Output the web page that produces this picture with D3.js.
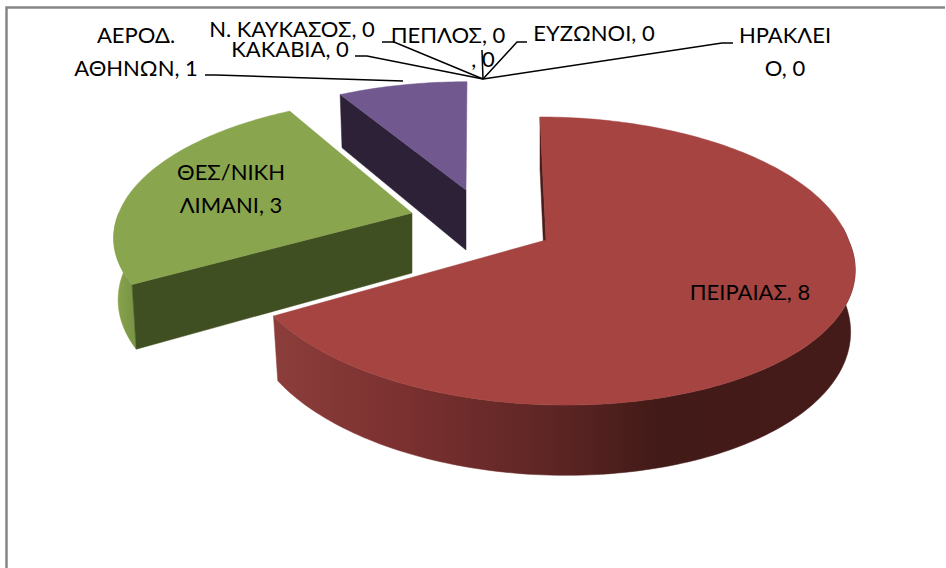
<!DOCTYPE html>
<html>
<head>
<meta charset="utf-8">
<script src="https://cdn.jsdelivr.net/npm/d3@7"></script>
<style>
  html, body { margin: 0; padding: 0; background: #fff; }
  svg { display: block; }
  text { font-family: Lato, "Open Sans", sans-serif; font-size: 22px; fill: #000; }
</style>
</head>
<body>
<div id="chart"></div>
<script>
// chart data, in slice order clockwise from 12 o'clock
var categories = ["ΠΕΙΡΑΙΑΣ", "ΘΕΣ/ΝΙΚΗ ΛΙΜΑΝΙ", "ΑΕΡΟΔ. ΑΘΗΝΩΝ", "ΚΑΚΑΒΙΑ", "Ν. ΚΑΥΚΑΣΟΣ", "", "ΠΕΠΛΟΣ", "ΕΥΖΩΝΟΙ", "ΗΡΑΚΛΕΙΟ"];
var values = [8, 3, 1, 0, 0, 0, 0, 0, 0];

var width = 946,
    height = 568;

// projection of the tilted pie: radii, perspective and wall height
var rx = 307, ry = 141, persp = 0.146, depth = 60;

// exploded slices: where each apex lands, how far back it shrinks, how it leans
var apex = [[546, 240], [412, 213], [466, 190]],
    shrinkX = [0.985, 0.955, 0.93],
    shrinkY = [1, 0.94, 0.88],
    leanBack = [6, -9, -1],
    leanFront = [20, -12, 0];

var topColours = ["#a54440", "#89a54e", "#71588f"],
    cutColours = ["#4a1d1b", "#404f22", "#2c2137"];

var svg = d3.select("#chart")
    .append("svg")
    .attr("width", width)
    .attr("height", height);

var defs = svg.append("defs");

// frame
svg.append("path")
    .attr("d", "M6.5," + height + "V7.5H" + (width - 1))
    .attr("fill", "none")
    .attr("stroke", "#868686")
    .attr("stroke-width", 2.5);

var pie = d3.pie().sort(null)(values);

// a = clockwise angle from the top, f = 0 for the top plane, 1 for the bottom
function project(i, a, r, f) {
    var u = Math.sin(a) * r,
        v = -Math.cos(a) * r,
        w = 1 / (1 - persp * v),
        lean = v < 0 ? leanBack[i] : leanFront[i],
        narrow = 1 - 0.015 * f;
    return [
        apex[i][0] + rx * u * w * narrow * shrinkX[i] + lean * v,
        apex[i][1] + ry * v * w * shrinkY[i] + depth * f * w
    ];
}

function arcPoints(i, a0, a1, f) {
    var n = Math.max(2, Math.ceil(Math.abs(a1 - a0) / 0.02));
    return d3.range(n + 1).map(function(k) {
        return project(i, a0 + (a1 - a0) * k / n, 1, f);
    });
}

var line = d3.line();

function polygon(pts, fill, parent) {
    parent.append("path")
        .attr("d", line(pts) + "Z")
        .attr("fill", fill)
        .attr("stroke", fill)
        .attr("stroke-width", 0.5);
}

// wall along the rim between two angles
function wall(i, a0, a1, fill, parent) {
    polygon(arcPoints(i, a0, a1, 0).concat(arcPoints(i, a1, a0, 1)), fill, parent);
}

// cut face along one radius
function cut(i, a, parent) {
    polygon([project(i, a, 1, 0), project(i, a, 0, 0), project(i, a, 0, 1), project(i, a, 1, 1)], cutColours[i], parent);
}

function wallGradient(i, x0, x1, stops) {
    var g = defs.append("linearGradient")
        .attr("id", "wall" + i)
        .attr("gradientUnits", "userSpaceOnUse")
        .attr("x1", x0).attr("x2", x1)
        .attr("y1", 0).attr("y2", 0);
    stops.forEach(function(s) {
        g.append("stop").attr("offset", s[0]).attr("stop-color", s[1]);
    });
}

wallGradient(0, 272, 856, [[0, "#8c3e3b"], [0.22, "#7b3130"], [0.49, "#5c2524"], [0.66, "#421a17"], [1, "#451b1a"]]);
wallGradient(1, 115, 140, [[0, "#89a54e"], [1, "#738f41"]]);

var slices = svg.append("g");

// back to front: purple, green, red
[2, 1, 0].forEach(function(i) {
    var d = pie[i],
        g = slices.append("g");
    if (i === 0) {
        cut(0, d.startAngle, g);
        wall(0, Math.PI * 0.47, d.endAngle, "url(#wall0)", g);
    }
    if (i === 1) {
        wall(1, d.startAngle, Math.PI * 1.5, "url(#wall1)", g);
        cut(1, d.startAngle, g);
    }
    if (i === 2) {
        cut(2, d.startAngle, g);
    }
    var top = [project(i, 0, 0, 0)].concat(arcPoints(i, d.startAngle, d.endAngle, 0));
    polygon(top, topColours[i], g);
});

// leader lines for the outside labels
var leaders = [
    [[205, 75], [216, 75], [403, 81]],
    [[355, 56], [367, 56], [483, 79]],
    [[382, 42], [394, 42], [483, 79]],
    [[482, 50], [483, 79]],
    [[527, 42], [517, 42], [483, 79]],
    [[733, 43], [722, 43], [483, 79]]
];

svg.append("g")
    .selectAll("path")
    .data(leaders)
    .enter()
    .append("path")
    .attr("d", function(d) { return line(d); })
    .attr("fill", "none")
    .attr("stroke", "#000")
    .attr("stroke-width", 1.5);

// labels: text built from the data, wrapped like the original
function label(i) {
    return (categories[i] ? categories[i] + ", " : ", ") + values[i];
}

var labelRows = [
    { lines: [label(0)], x: 750, y: 300 },
    { lines: ["ΘΕΣ/ΝΙΚΗ", "ΛΙΜΑΝΙ, 3"], x: 231, y: 180 },
    { lines: ["ΑΕΡΟΔ.", "ΑΘΗΝΩΝ, 1"], x: 136, y: 43 },
    { lines: [label(3)], x: 290, y: 57 },
    { lines: [label(4)], x: 292, y: 37 },
    { lines: [label(5)], x: 483, y: 67 },
    { lines: [label(6)], x: 448, y: 43 },
    { lines: [label(7)], x: 594, y: 41 },
    { lines: ["ΗΡΑΚΛΕΙ", "Ο, 0"], x: 785, y: 43 }
];

var rows = svg.append("g")
    .selectAll("text")
    .data(labelRows)
    .enter()
    .append("text")
    .attr("text-anchor", "middle");

rows.each(function(d) {
    var t = d3.select(this);
    d.lines.forEach(function(s, k) {
        t.append("tspan")
            .attr("x", d.x)
            .attr("y", d.y + k * 33)
            .text(s);
    });
});
</script>
</body>
</html>
